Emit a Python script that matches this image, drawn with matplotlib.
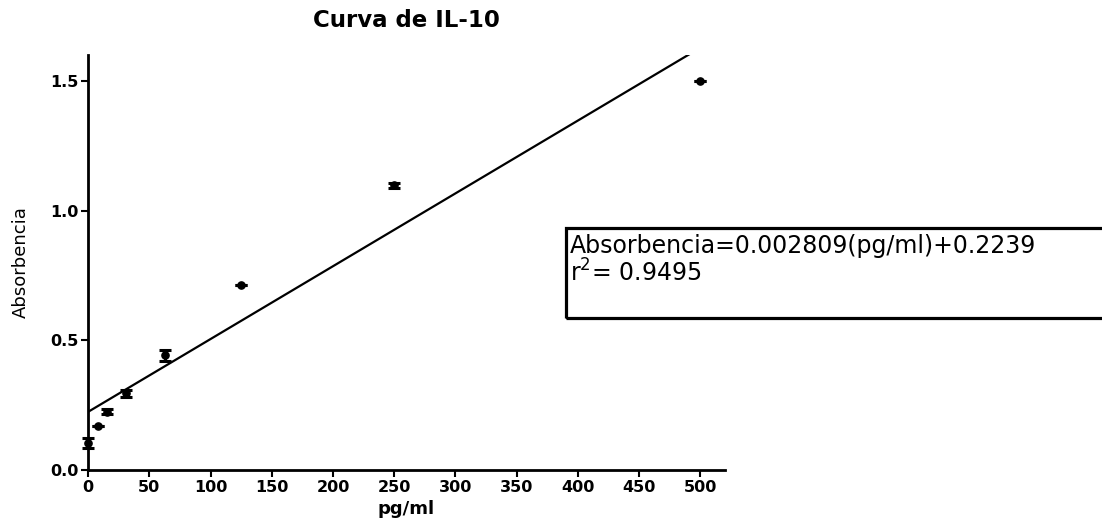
import matplotlib
matplotlib.use("Agg")
import matplotlib.pyplot as plt
from matplotlib.patches import Rectangle
import numpy as np

plt.rcParams['font.family'] = ['DejaVu Sans']
plt.rcParams['mathtext.fontset'] = 'dejavusans'

conc = [0, 7.8, 15.6, 31.25, 62.5, 125, 250, 500]
absorb = [0.105, 0.171, 0.225, 0.296, 0.442, 0.714, 1.097, 1.500]
err = [0.02, 0.0, 0.01, 0.013, 0.022, 0.0, 0.01, 0.0]
slope = 0.002809
intercept = 0.2239
r2 = 0.9495
xticks = [0, 50, 100, 150, 200, 250, 300, 350, 400, 450, 500]
yticks = [0.0, 0.5, 1.0, 1.5]

W, H = 1102, 527
fig = plt.figure(figsize=(W / 100, H / 100), dpi=100)
ax = fig.add_axes([88 / W, (H - 470) / H, (725 - 88) / W, (470 - 55) / H])

fit_x = np.array([0, 500])
ax.plot(fit_x, slope * fit_x + intercept, color='black', lw=1.6)
ax.errorbar(conc, absorb, yerr=err, fmt='o', color='black', ms=5.2,
            ecolor='black', elinewidth=2.2, capsize=4, capthick=2.2,
            clip_on=False, zorder=3)

ax.set_xlim(0, 520)
ax.set_ylim(0, 1.6)
ax.set_xticks(xticks)
ax.set_yticks(yticks)
ax.set_yticklabels([f"{v:.1f}" for v in yticks])
for s in ['top', 'right']:
    ax.spines[s].set_visible(False)
for s in ['left', 'bottom']:
    ax.spines[s].set_linewidth(2.0)
ax.tick_params(axis='both', length=5, width=1.5, pad=2, labelsize=11.5)
for lab in ax.get_xticklabels() + ax.get_yticklabels():
    lab.set_fontweight('bold')

ax.set_title("Curva de IL-10", fontsize=16.5, fontweight='bold', pad=20)
ax.set_xlabel("pg/ml", fontsize=13, fontweight='bold', labelpad=4)
ax.set_ylabel("Absorbencia", fontsize=13)
ax.yaxis.set_label_coords(-0.092, 0.5)

rect = Rectangle((566 / W, (H - 318) / H), (W + 20 - 566) / W, 90 / H,
                 transform=fig.transFigure, fill=False, lw=2.3,
                 edgecolor='black', clip_on=False)
fig.patches.append(rect)
fig.text(570 / W, (H - 234) / H,
         f"Absorbencia={slope:.6f}(pg/ml)+{intercept:.4f}\nr$^2$= {r2:.4f}",
         fontsize=17, va='top', ha='left', linespacing=1.05)

fig.savefig("out.png", dpi=100)
